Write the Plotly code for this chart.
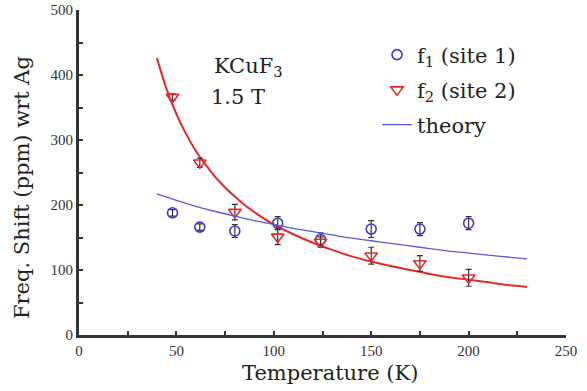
import plotly.graph_objects as go

# measured data
temps = [48, 62, 80, 102, 124, 150, 175, 200]
f1_vals = [188, 166, 160, 172, 147, 163, 163, 172]
f1_err = [5, 5, 10, 10, 10, 13, 10, 10]
f2_vals = [366, 265, 189, 151, 143, 122, 110, 88]
f2_err = [5, 7, 12, 12, 8, 13, 12, 13]

# theory curve (blue)
theory_T = [40, 50, 60, 70, 80, 90, 100, 110, 120, 130, 140, 150, 160, 170, 180, 190, 200, 210, 220, 230]
theory_v = [217, 207, 198, 190, 183, 176, 170, 164, 159, 154, 149, 145, 141, 137, 133, 129, 126, 123, 120, 117]

# red fit curve
fit_T = [40, 45, 50, 55, 60, 65, 70, 75, 80, 85, 90, 95, 100, 110, 120, 130, 140, 150, 160, 170, 180, 190, 200, 210, 220, 230]
fit_v = [426, 378, 340, 309, 283, 262, 243, 227, 213, 200, 189, 179, 170, 155, 142, 131, 121, 113, 106, 100, 94, 89, 85, 81, 77, 74]

x_ticks = [0, 50, 100, 150, 200, 250]
y_ticks = [0, 100, 200, 300, 400, 500]

BLUE = "#3a3ac8"
RED = "#e32b2b"
TFONT = "Liberation Serif"
FONT = "DejaVu Serif"

fig = go.Figure()
fig.add_trace(go.Scatter(
    x=fit_T, y=fit_v, mode="lines", line=dict(color=RED, width=2, shape="spline"),
    showlegend=False, hoverinfo="skip"))
fig.add_trace(go.Scatter(
    x=temps, y=f1_vals, mode="markers", name="f<sub>1</sub> (site 1)", legend="legend",
    marker=dict(symbol="circle-open", size=10, color=BLUE, line=dict(width=1.6)),
    error_y=dict(type="data", array=f1_err, color="#333333", thickness=1.2, width=3)))
fig.add_trace(go.Scatter(
    x=temps, y=f2_vals, mode="markers", name="f<sub>2</sub> (site 2)", legend="legend2",
    marker=dict(symbol="triangle-down-open", size=11, color=RED, line=dict(width=1.6)),
    error_y=dict(type="data", array=f2_err, color="#333333", thickness=1.2, width=3)))
fig.add_trace(go.Scatter(
    x=theory_T, y=theory_v, mode="lines", name="theory", legend="legend3",
    line=dict(color="#5a5ad8", width=1.3, shape="spline")))


def xpos(px):
    return (px - 79) / 487


def ypos(px):
    return (335 - px) / 325


fig.add_annotation(x=xpos(248), y=ypos(67), xref="paper", yref="paper",
                   text="KCuF<sub>3</sub>", showarrow=False, xanchor="center", yanchor="middle",
                   font=dict(family=FONT, size=21, color="#222"))
fig.add_annotation(x=xpos(238), y=ypos(97), xref="paper", yref="paper",
                   text="1.5 T", showarrow=False, xanchor="center", yanchor="middle",
                   font=dict(family=FONT, size=21, color="#222"))
# axis titles
fig.add_annotation(x=xpos(330), y=ypos(373), xref="paper", yref="paper",
                   text="Temperature (K)", showarrow=False, xanchor="center", yanchor="middle",
                   font=dict(family=FONT, size=21, color="#222"))
fig.add_annotation(x=xpos(22), y=ypos(188), xref="paper", yref="paper",
                   text="Freq. Shift (ppm) wrt Ag", showarrow=False, textangle=-90,
                   xanchor="center", yanchor="middle",
                   font=dict(family=FONT, size=21, color="#222"))

axis_common = dict(
    showgrid=False, zeroline=False, showline=True, linecolor="#333333", linewidth=3,
    ticks="inside", tickcolor="#333333", tickwidth=2, ticklen=4, automargin=False,
    tickfont=dict(family=TFONT, size=15, color="#333"),
)
fig.update_xaxes(range=[0, 250], tickvals=x_ticks, ticktext=[str(v) for v in x_ticks],
                 minor=dict(tickvals=[25, 75, 125, 175, 225], ticks="inside", ticklen=4,
                            tickwidth=2, tickcolor="#333333"),
                 **axis_common)
fig.update_yaxes(range=[0, 500], tickvals=y_ticks, ticktext=[str(v) for v in y_ticks],
                 minor=dict(tickvals=[50, 150, 250, 350, 450], ticks="inside", ticklen=4,
                            tickwidth=2, tickcolor="#333333"),
                 **axis_common)

leg_common = dict(xanchor="left", yanchor="middle",
                  font=dict(family=FONT, size=21, color="#222"),
                  bgcolor="rgba(0,0,0,0)", itemwidth=30)

fig.update_layout(
    width=587, height=391,
    margin=dict(l=79, r=21, t=10, b=56),
    plot_bgcolor="white", paper_bgcolor="white",
    legend=dict(x=0.612, y=ypos(55), **leg_common),
    legend2=dict(x=0.612, y=ypos(90), **leg_common),
    legend3=dict(x=0.612, y=ypos(125), **leg_common),
)

fig.write_html("out.html", config={"displayModeBar": False},
               post_script="document.body.style.margin='0';document.body.style.overflow='hidden';")
